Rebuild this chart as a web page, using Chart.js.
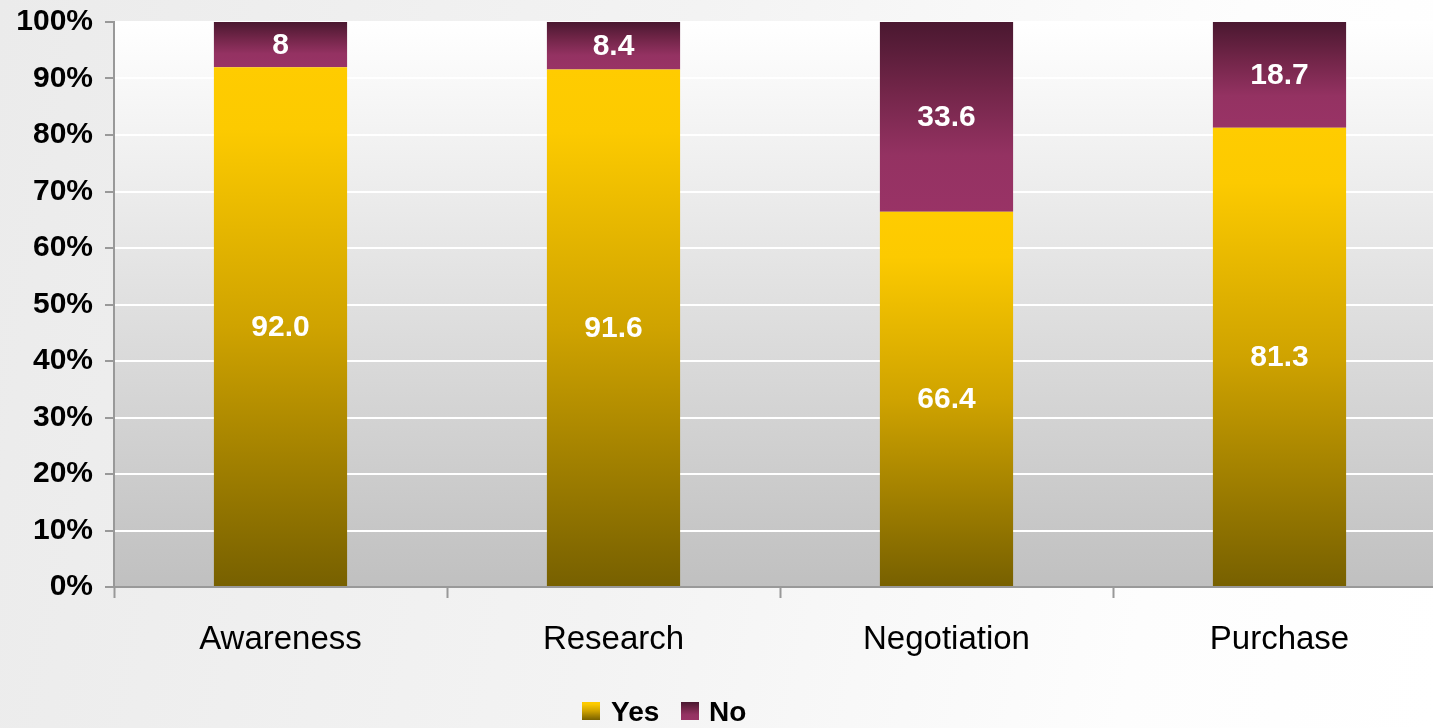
<!DOCTYPE html>
<html>
<head>
<meta charset="utf-8">
<script src="https://cdn.jsdelivr.net/npm/chart.js@4/dist/chart.umd.min.js"></script>
<style>
  html, body { margin: 0; padding: 0; overflow: hidden; }
  body {
    width: 1433px; height: 728px;
    background: linear-gradient(100deg, #ebebeb 0%, #f3f3f3 45%, #fdfdfd 80%, #ffffff 100%);
  }
  #wrap { position: relative; width: 1446px; height: 728px; }
</style>
</head>
<body>
<div id="wrap"><canvas id="chart"></canvas></div>
<script>
// Funnel stages and the share of respondents answering Yes / No at each stage
const stages = ['Awareness', 'Research', 'Negotiation', 'Purchase'];
const yesValues = [92.0, 91.6, 66.4, 81.3];
const noValues = [8, 8.4, 33.6, 18.7];
const seriesNames = ['Yes', 'No'];
const yTicks = [0, 10, 20, 30, 40, 50, 60, 70, 80, 90, 100];

const FONT = '"Liberation Sans", Arial, Helvetica, sans-serif';

function yesGradient(ctx, top, bottom) {
  const g = ctx.createLinearGradient(0, top, 0, bottom);
  g.addColorStop(0, '#ffcc00');
  g.addColorStop(0.12, '#fcca00');
  g.addColorStop(0.5, '#cfa300');
  g.addColorStop(1, '#776000');
  return g;
}
function noGradient(ctx, top, bottom) {
  const g = ctx.createLinearGradient(0, top, 0, bottom);
  g.addColorStop(0, '#4a1830');
  g.addColorStop(0.35, '#712548');
  g.addColorStop(0.7, '#943262');
  g.addColorStop(1, '#993366');
  return g;
}

function barFill(context) {
  const chart = context.chart;
  const area = chart.chartArea;
  if (!area || context.type !== 'data') return context.datasetIndex === 0 ? '#ffcc00' : '#993366';
  const y = chart.scales.y;
  const i = context.dataIndex;
  if (context.datasetIndex === 0) {
    return yesGradient(chart.ctx, y.getPixelForValue(yesValues[i]), y.getPixelForValue(0));
  }
  return noGradient(chart.ctx, y.getPixelForValue(yesValues[i] + noValues[i]), y.getPixelForValue(yesValues[i]));
}

// Plot-area backdrop: white at the top fading to grey at the baseline
const plotBackdrop = {
  id: 'plotBackdrop',
  beforeDraw(chart) {
    const { ctx, chartArea: a } = chart;
    const g = ctx.createLinearGradient(0, a.top, 0, a.bottom);
    g.addColorStop(0, '#ffffff');
    g.addColorStop(1, '#c0c0c0');
    ctx.save();
    ctx.fillStyle = g;
    ctx.fillRect(a.left, a.top, a.right - a.left, a.bottom - a.top);
    ctx.restore();
  }
};

// Values written in the middle of each bar segment
const segmentLabels = {
  id: 'segmentLabels',
  afterDatasetsDraw(chart) {
    const ctx = chart.ctx;
    ctx.save();
    ctx.fillStyle = '#ffffff';
    ctx.font = 'bold 30px ' + FONT;
    ctx.textAlign = 'center';
    ctx.textBaseline = 'middle';
    chart.data.datasets.forEach((ds, di) => {
      chart.getDatasetMeta(di).data.forEach((bar, i) => {
        const { x, y, base } = bar.getProps(['x', 'y', 'base'], true);
        const v = ds.data[i];
        const text = di === 0 ? v.toFixed(1) : String(v);
        ctx.fillText(text, x, (y + base) / 2 + 1);
      });
    });
    ctx.restore();
  }
};

// Legend row under the category labels
const bottomLegend = {
  id: 'bottomLegend',
  afterDraw(chart) {
    const ctx = chart.ctx;
    ctx.save();
    ctx.font = 'bold 28px ' + FONT;
    ctx.textBaseline = 'alphabetic';
    ctx.fillStyle = yesGradient(ctx, 702, 720);
    ctx.fillRect(582, 702, 18, 18);
    ctx.fillStyle = '#000000';
    ctx.fillText(seriesNames[0], 611, 721);
    ctx.fillStyle = noGradient(ctx, 702, 720);
    ctx.fillRect(681, 702, 18, 18);
    ctx.fillStyle = '#000000';
    ctx.fillText(seriesNames[1], 709, 721);
    ctx.restore();
  }
};

new Chart(document.getElementById('chart'), {
  type: 'bar',
  data: {
    labels: stages,
    datasets: [
      { label: seriesNames[0], data: yesValues, backgroundColor: barFill, borderWidth: 0 },
      { label: seriesNames[1], data: noValues, backgroundColor: barFill, borderWidth: 0 }
    ]
  },
  options: {
    responsive: true,
    maintainAspectRatio: false,
    animation: false,
    datasets: { bar: { categoryPercentage: 1.0, barPercentage: 0.4 } },
    layout: { padding: { top: 22, bottom: 0, left: 0, right: 0 } },
    plugins: {
      legend: { display: false },
      tooltip: { enabled: false }
    },
    scales: {
      x: {
        stacked: true,
        offset: true,
        grid: {
          offset: true,
          drawOnChartArea: false,
          drawTicks: true,
          tickLength: 11,
          tickColor: '#999999',
          tickWidth: 2
        },
        border: { display: true, color: '#999999', width: 2 },
        ticks: {
          color: '#000000',
          font: { family: FONT, size: 33, weight: 'normal' },
          padding: 22,
          maxRotation: 0
        },
        afterFit(scale) {
          scale.height = 141;
          scale.paddingLeft = 0;
          scale.paddingRight = 0;
        }
      },
      y: {
        stacked: true,
        min: 0,
        max: 100,
        afterBuildTicks(scale) { scale.ticks = yTicks.map(v => ({ value: v })); },
        grid: {
          color: '#ffffff',
          lineWidth: 2,
          drawTicks: true,
          tickLength: 9,
          tickColor: '#999999',
          tickWidth: 2
        },
        border: { display: true, color: '#999999', width: 2 },
        ticks: {
          color: '#000000',
          font: { family: FONT, size: 30, weight: 'bold' },
          padding: 12,
          callback: v => v + '%'
        },
        afterFit(scale) {
          scale.width = 114;
          scale.paddingTop = 0;
          scale.paddingBottom = 0;
        }
      }
    }
  },
  plugins: [plotBackdrop, segmentLabels, bottomLegend]
});
</script>
</body>
</html>
